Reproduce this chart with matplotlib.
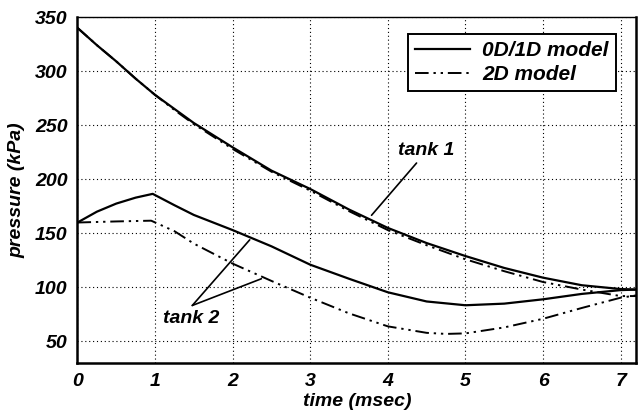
import matplotlib
matplotlib.use('Agg')  # non-interactive backend
import matplotlib.pyplot as plt

# tank 1, 0D/1D model
t1_solid = [0, 0.25, 0.5, 0.75, 1, 1.25, 1.5, 2, 2.5, 3, 3.5, 4, 4.5, 5, 5.5, 6, 6.5, 7, 7.2]
p1_solid = [340, 324, 309, 293, 278, 265, 252, 229.5, 208, 191, 172, 155, 141, 129, 118, 109, 102, 98.5, 98]

# tank 1, 2D model
t1_2d = [0, 0.25, 0.5, 0.75, 1, 1.25, 1.5, 2, 2.5, 3, 3.5, 4, 4.5, 5, 5.5, 6, 6.5, 7, 7.2]
p1_2d = [340, 324, 309, 293, 278, 264, 251, 228, 207, 189.5, 170.5, 153, 139, 126, 115, 105, 98, 92, 92]

# tank 2, 0D/1D model
t2_solid = [0, 0.25, 0.5, 0.75, 0.97, 1.25, 1.5, 2, 2.5, 3, 3.5, 4, 4.5, 5, 5.5, 6, 6.5, 7, 7.2]
p2_solid = [160, 170, 177.5, 183, 186.5, 176, 167, 153, 138, 121, 108, 95.5, 87, 83.5, 85, 89, 94, 97.5, 98]

# tank 2, 2D model
t2_2d = [0, 0.5, 0.95, 1.25, 1.5, 2, 2.5, 3, 3.5, 4, 4.5, 4.75, 5, 5.5, 6, 6.5, 7, 7.2]
p2_2d = [160, 161, 161.7, 152, 140.5, 122, 106, 90.5, 76, 64, 58, 57, 57.5, 63, 71, 81, 90.5, 92.6]

x_ticks = [0, 1, 2, 3, 4, 5, 6, 7]
y_ticks = [50, 100, 150, 200, 250, 300, 350]

FONT = 'Liberation Sans'
dashdotdot = (0, (7, 2.5, 1.2, 2.5, 1.2, 2.5))

fig = plt.figure(figsize=(6.4, 4.15), dpi=100)
ax = fig.add_axes([0.121, 0.125, 0.873, 0.834])

ax.plot(t1_solid, p1_solid, color='black', lw=1.6, label='0D/1D model')
ax.plot(t1_2d, p1_2d, color='black', lw=1.4, linestyle=dashdotdot, label='2D model')
ax.plot(t2_solid, p2_solid, color='black', lw=1.6)
ax.plot(t2_2d, p2_2d, color='black', lw=1.4, linestyle=dashdotdot)

ax.set_xlim(0, 7.2)
ax.set_ylim(30, 350)
ax.set_xticks(x_ticks)
ax.set_yticks(y_ticks)
ax.grid(True, color='black', linestyle=(0, (1, 2.5)), linewidth=0.8)
ax.tick_params(length=0, pad=7)
for lab in ax.get_xticklabels() + ax.get_yticklabels():
    lab.set_fontfamily(FONT)
    lab.set_fontweight('bold')
    lab.set_fontstyle('italic')
    lab.set_fontsize(14)

for side in ['left', 'bottom', 'right']:
    ax.spines[side].set_linewidth(1.8)
ax.spines['top'].set_linewidth(1.0)

lab_font = dict(family=FONT, weight='bold', style='italic', size=14)
ax.set_xlabel('time (msec)', fontdict=lab_font, labelpad=2)
ax.set_ylabel('pressure (kPa)', fontdict=lab_font, labelpad=7)

# annotations
ax.text(4.5, 227, 'tank 1', fontdict=lab_font, ha='center', va='center')
ax.annotate('', xy=(3.79, 166.7), xytext=(4.37, 215),
            arrowprops=dict(arrowstyle='-', color='black', lw=1.2, shrinkA=0, shrinkB=0))
ax.text(1.47, 71, 'tank 2', fontdict=lab_font, ha='center', va='center')
ax.annotate('', xy=(2.22, 144), xytext=(1.48, 83.3),
            arrowprops=dict(arrowstyle='-', color='black', lw=1.2, shrinkA=0, shrinkB=0))
ax.annotate('', xy=(2.37, 108), xytext=(1.48, 83.3),
            arrowprops=dict(arrowstyle='-', color='black', lw=1.2, shrinkA=0, shrinkB=0))

leg = ax.legend(loc='upper right', bbox_to_anchor=(0.982, 0.982), fancybox=False,
                edgecolor='black', framealpha=1, handlelength=2.6, borderpad=0.35,
                labelspacing=0.25, handletextpad=0.6,
                prop=dict(family=FONT, weight='bold', style='italic', size=15))
leg.get_frame().set_linewidth(1.4)

fig.savefig('out.png', dpi=100)
